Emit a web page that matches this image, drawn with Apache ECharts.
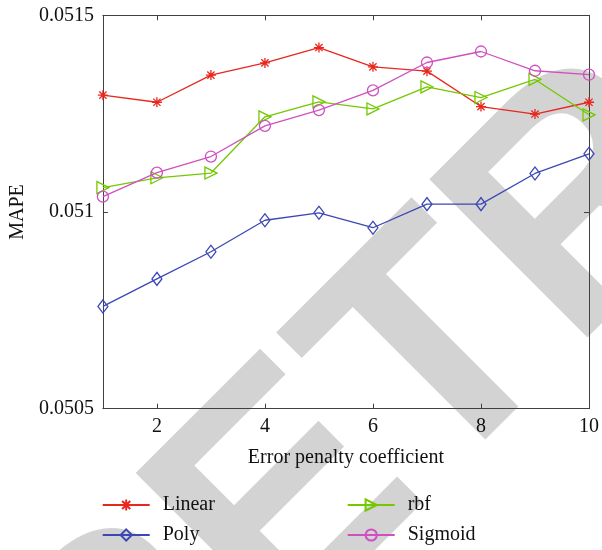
<!DOCTYPE html>
<html><head><meta charset="utf-8">
<script src="https://cdn.jsdelivr.net/npm/echarts@6/dist/echarts.min.js"></script>
<style>html,body{margin:0;padding:0;background:#fff}#c{width:602px;height:550px}</style>
</head><body><div id="c"></div>
<script>
const xValues = [1,2,3,4,5,6,7,8,9,10];
const xTickValues = [2,4,6,8,10];
const yTickValues = [0.0505, 0.051, 0.0515];
const yTickLabels = ['0.0505', '0.051', '0.0515'];
const seriesNames = ['Linear', 'Poly', 'rbf', 'Sigmoid'];
const linear  = [0.051297,0.051279,0.051348,0.051379,0.051418,0.051369,0.051358,0.051268,0.051249,0.051279];
const poly    = [0.050760,0.050830,0.050899,0.050979,0.050998,0.050960,0.051020,0.051020,0.051098,0.051148];
const rbf     = [0.051062,0.051087,0.051099,0.051242,0.051280,0.051262,0.051318,0.051291,0.051337,0.051247];
const sigmoid = [0.051039,0.051100,0.051141,0.051219,0.051259,0.051309,0.051380,0.051408,0.051359,0.051349];
const watermark = 'RETRACTED';

const colors = ['#e8271e', '#3c48b4', '#74c800', '#d050c0'];
const serif = '"Liberation Serif", "DejaVu Serif", serif';
const asterisk = 'path://M0,-1L0,1M-1,0L1,0M-0.72,-0.72L0.72,0.72M-0.72,0.72L0.72,-0.72';
const symbols = [asterisk, 'diamond', 'triangle', 'circle'];
const symbolSizes = [10, [10,13], [12,12], 11];
const rotates = [0, 0, -90, 0];
const datasets = [linear, poly, rbf, sigmoid];

const axisLineStyle = {color:'#404040', width:1};
function xAx(pos, showLabel){
  return {type:'value', position:pos, min:1, max:10,
    axisLine:{show:true, onZero:false, lineStyle:axisLineStyle},
    axisTick:{show:true, inside:true, length:5, lineStyle:axisLineStyle, customValues:xTickValues},
    axisLabel:{show:showLabel, customValues:xTickValues, color:'#111', fontFamily:serif, fontSize:20, margin:8},
    splitLine:{show:false},
    name: showLabel ? 'Error penalty coefficient' : '', nameLocation:'middle', nameGap:39,
    nameTextStyle:{color:'#111', fontFamily:serif, fontSize:20}};
}
function yAx(pos, showLabel){
  return {type:'value', position:pos, min:0.0505, max:0.0515,
    axisLine:{show:true, onZero:false, lineStyle:axisLineStyle},
    axisTick:{show:true, inside:true, length:5, lineStyle:axisLineStyle, customValues:yTickValues},
    axisLabel:{show:showLabel, customValues:yTickValues, color:'#111', fontFamily:serif, fontSize:20, margin:9,
      formatter:(v)=>{const i=yTickValues.findIndex(t=>Math.abs(t-v)<1e-9);return i>=0?yTickLabels[i]:'';}},
    splitLine:{show:false},
    name: showLabel ? 'MAPE' : '', nameLocation:'middle', nameGap:74, nameRotate:90,
    nameTextStyle:{color:'#111', fontFamily:serif, fontSize:20}};
}

const series = seriesNames.map((n,i)=>({
  name:n, type:'line', xAxisIndex:0, yAxisIndex:0,
  data: xValues.map((x,j)=>[x, datasets[i][j]]),
  symbol: symbols[i], symbolSize: symbolSizes[i], symbolRotate: rotates[i],
  showAllSymbol:true, z: 10+i,
  lineStyle:{color:colors[i], width:1.3},
  itemStyle:{color:'rgba(255,255,255,0)', borderColor:colors[i], borderWidth:1.3},
  emphasis:{disabled:true}, animation:false
}));

const legendCommon = {orient:'vertical', itemWidth:47, itemHeight:14, itemGap:10, padding:0,
  textStyle:{fontFamily:serif, fontSize:20, color:'#111', lineHeight:20, padding:[0,0,0,8]},
  selectedMode:false};

const chart = echarts.init(document.getElementById('c'), null, {renderer:'canvas'});
chart.setOption({
  backgroundColor:'#fff',
  animation:false,
  grid:{left:101.7, right:10.3, top:15.3, bottom:141.3, containLabel:false},
  xAxis:[xAx('bottom', true), xAx('top', false)],
  yAxis:[yAx('left', true), yAx('right', false)],
  legend:[
    Object.assign({}, legendCommon, {data:[seriesNames[0], seriesNames[1]], left:101.7, top:495}),
    Object.assign({}, legendCommon, {data:[seriesNames[2], seriesNames[3]], left:346.7, top:495})
  ],
  graphic:[{
    type:'text', x:164, y:864, rotation:Math.PI/4, z:-10, silent:true,
    style:{text:watermark, fill:'#d3d3d3', font:'bold 325px "Liberation Sans"', textAlign:'left', textVerticalAlign:'bottom'}
  }],
  series: series
});
</script></body></html>
